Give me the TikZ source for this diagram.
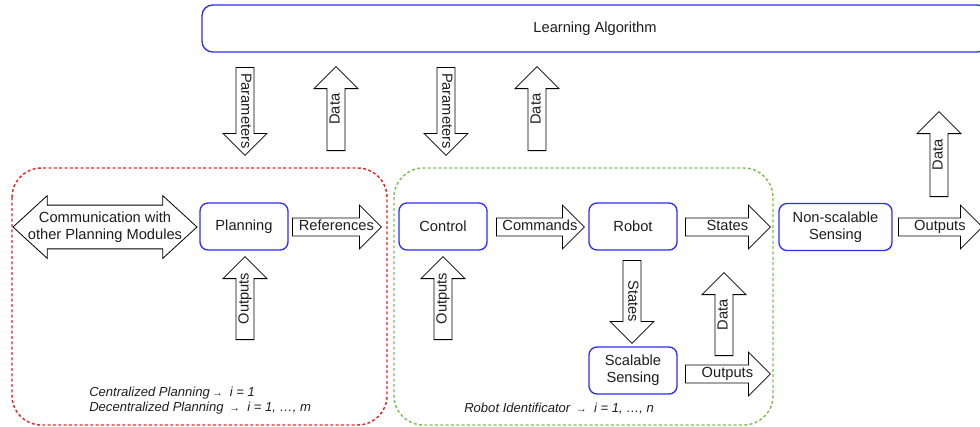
\documentclass[tikz,border=0pt]{standalone}
\usepackage{fontspec}
\setmainfont{Liberation Sans}
\usetikzlibrary{shapes.arrows}

\definecolor{boxblue}{RGB}{45,45,250}
\definecolor{planred}{RGB}{232,40,40}
\definecolor{robgreen}{RGB}{128,190,80}
\definecolor{txtgray}{RGB}{30,30,30}

% text inside a block arrow may run into the head
\newcommand{\arrtext}[1]{\makebox[0pt]{\kern6pt #1}}

\tikzset{
  module/.style={draw=boxblue, line width=1pt, rounded corners=6pt, fill=white,
    minimum width=66pt, minimum height=35.25pt, align=center, inner sep=0pt},
  blockarrow/.style={single arrow, draw=black, fill=white, line width=0.6pt,
    single arrow head extend=9.75pt, inner xsep=0pt, inner ysep=1.2pt,
    text height=8pt, text depth=2.5pt, minimum width=1pt, minimum height=#1, anchor=tail},
  groupframe/.style={line width=1.1pt, dash pattern=on 2.2pt off 1.8pt, rounded corners=22pt},
  note/.style={font=\fontsize{9.8}{11.3}\selectfont\itshape, align=left, anchor=west, inner sep=0pt},
}

\begin{document}
\begin{tikzpicture}[x=0.75pt, y=-0.75pt, font=\fontsize{11}{12.5}\selectfont, text=txtgray]
  \useasboundingbox (0,0) rectangle (980,426);
  \clip (0,0) rectangle (980,426);

  % dashed frames round the planning and the robot parts
  \draw[groupframe, draw=planred] (12,168) rectangle (387,425);
  \draw[groupframe, draw=robgreen] (394,168) rectangle (773,425);

  % modules
  \node[module, minimum width=589.5pt, rounded corners=8pt] (learn) at (595,28.5) {Learning Algorithm};
  \node[module] (plan) at (244,226.5) {Planning};
  \node[module] (ctrl) at (443,226.5) {Control};
  \node[module] (robot) at (633,226.5) {Robot};
  \node[module] (scal) at (633,370.5) {Scalable\\Sensing};
  \node[module, minimum width=84.75pt] (nonscal) at (835.5,227) {Non-scalable\\Sensing};

  % to and from the learning algorithm
  \node[blockarrow=66pt, rotate=-90] (par1) at (245,67) {\arrtext{Parameters}};
  \node[blockarrow=63pt, rotate=90] (dat1) at (336,151) {\arrtext{Data}};
  \node[blockarrow=66pt, rotate=-90] (par2) at (446,67) {\arrtext{Parameters}};
  \node[blockarrow=63pt, rotate=90] (dat2) at (537,151) {\arrtext{Data}};
  \node[blockarrow=63.75pt, rotate=90] (dat3) at (939,197) {\arrtext{Data}};

  % main signal chain
  \node[double arrow, draw=black, fill=white, line width=0.6pt, double arrow head extend=7.1pt,
    double arrow tip angle=85, inner xsep=0pt, inner ysep=16.1pt, text height=0pt, text depth=0pt,
    minimum height=138pt] (comm) at (105,227) {};
  \node[align=center] (commtext) at (comm.center) {Communication with\\other Planning Modules};
  \node[blockarrow=66.75pt] (refs) at (292,227) {\arrtext{References}};
  \node[blockarrow=66pt] (cmds) at (496,227) {\arrtext{Commands}};
  \node[blockarrow=63.75pt] (st1) at (685,227) {\arrtext{States}};
  \node[blockarrow=63pt] (out3) at (898,227) {\arrtext{Outputs}};

  % feedback and sensing
  \node[blockarrow=62.25pt, rotate=90] (out1) at (245,340) {\arrtext{Outputs}};
  \node[blockarrow=62.25pt, rotate=90] (out2) at (443,340) {\arrtext{Outputs}};
  \node[blockarrow=62.25pt, rotate=-90] (st2) at (632,260) {\arrtext{States}};
  \node[blockarrow=62.25pt, rotate=90] (dat4) at (724,356) {\arrtext{Data}};
  \node[blockarrow=63.75pt] (out4) at (685,374) {\arrtext{Outputs}};

  % notes
  \node[note] (plannote) at (89,400.5) {Centralized Planning\,{\footnotesize→}\ \ i = 1\\Decentralized Planning \,{\footnotesize→}\ \ i = 1, …, m};
  \node[note] (robnote) at (464,409) {Robot Identificator \,{\footnotesize→}\ \ i = 1, …, n};
\end{tikzpicture}
\end{document}
